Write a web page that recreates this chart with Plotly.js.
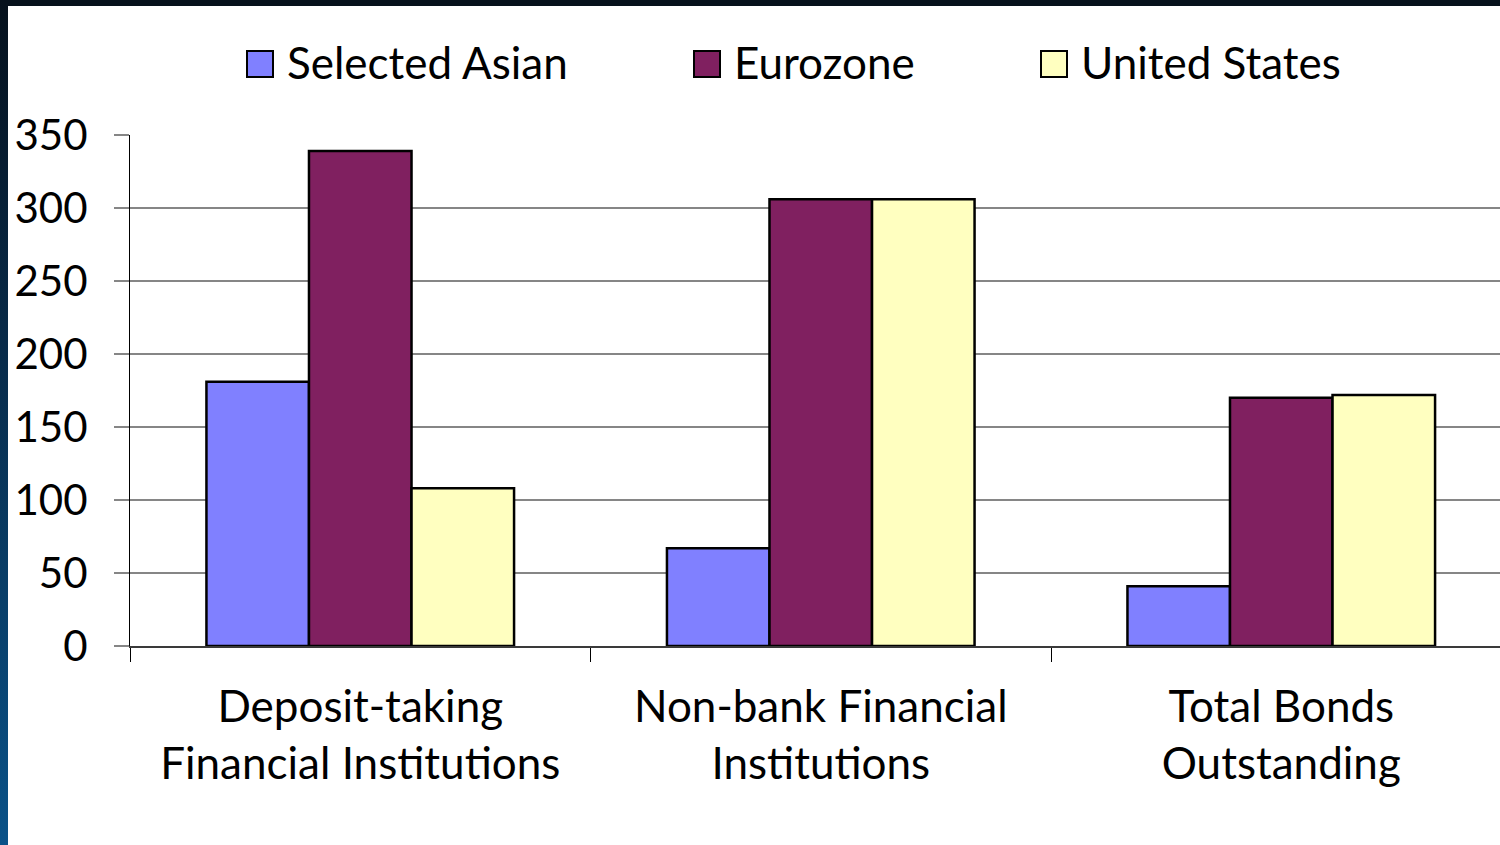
<!DOCTYPE html>
<html>
<head>
<meta charset="utf-8">
<script src="https://cdn.plot.ly/plotly-3.0.1.min.js"></script>
<style>
  html, body { margin: 0; padding: 0; width: 1500px; height: 845px; overflow: hidden; background: #ffffff; }
  #topband { position: absolute; left: 0; top: 0; width: 1500px; height: 6px; background: #06111c; }
  #leftband { position: absolute; left: 0; top: 0; width: 8px; height: 845px;
              background: linear-gradient(to bottom, #06111c 0%, #082a48 40%, #0a5288 100%); }
  #chart { position: absolute; left: 8px; top: 6px; width: 1492px; height: 839px; }
</style>
</head>
<body>
<div id="topband"></div>
<div id="leftband"></div>
<div id="chart"></div>
<script>
// ---- data ----
const categories = ["Deposit-taking<br>Financial Institutions", "Non-bank Financial<br>Institutions", "Total Bonds<br>Outstanding"];
const seriesNames = ["Selected Asian", "Eurozone", "United States"];
const selectedAsian = [181, 67, 41];
const eurozone = [339, 306, 170];
const unitedStates = [108, 306, 172];
const yTickVals = [0, 50, 100, 150, 200, 250, 300, 350];

// ---- styles ----
const colors = ["#8080FF", "#802060", "#FFFFC0"];
const FONT = "Lato, 'Noto Sans', sans-serif";
const W = 1492, H = 839;
const M = { l: 122, r: 0, t: 129, b: 199 };
const PW = W - M.l - M.r, PH = H - M.t - M.b;
const px = x => (x - M.l) / PW;
const py = y => 1 - (y - M.t) / PH;

const seriesValues = [selectedAsian, eurozone, unitedStates];
const traces = seriesNames.map((name, i) => ({
  type: "bar",
  name: name,
  x: categories,
  y: seriesValues[i],
  marker: { color: colors[i], line: { color: "#000000", width: 2.5 } },
  showlegend: false,
  hoverinfo: "x+y+name"
}));

// custom legend (large square swatches)
const legendBoxX = [239, 686, 1033];
const shapes = [];
const annotations = [];
seriesNames.forEach((name, i) => {
  const x0 = legendBoxX[i];
  shapes.push({
    type: "rect", xref: "paper", yref: "paper",
    x0: px(x0), x1: px(x0 + 26), y0: py(71), y1: py(45),
    fillcolor: colors[i], line: { color: "#000000", width: 2 }
  });
  annotations.push({
    xref: "paper", yref: "paper", x: px(x0 + 38), y: py(56),
    xanchor: "left", yanchor: "middle", showarrow: false,
    text: name, font: { family: FONT, size: 44, color: "#000000" }
  });
});

const layout = {
  width: W, height: H,
  margin: M,
  paper_bgcolor: "#ffffff",
  plot_bgcolor: "#ffffff",
  barmode: "group",
  bargap: 0.332,
  bargroupgap: 0,
  showlegend: false,
  font: { family: FONT, size: 44, color: "#000000" },
  xaxis: {
    type: "category",
    range: [-0.5, 2.475],
    tickson: "boundaries",
    ticks: "outside", ticklen: 14, tickwidth: 1, tickcolor: "#000000",
    showline: true, linecolor: "#3a3a3a", linewidth: 2,
    showgrid: false,
    ticklabelstandoff: 21,
    tickfont: { family: FONT, size: 44, color: "#000000" },
    fixedrange: true
  },
  yaxis: {
    range: [0, 350],
    tickvals: yTickVals,
    ticktext: yTickVals.map(String),
    ticks: "outside", ticklen: 15, tickwidth: 2, tickcolor: "#868686",
    showgrid: true, gridcolor: "#868686", gridwidth: 2,
    zeroline: false,
    showline: true, linecolor: "#000000", linewidth: 1,
    ticklabelstandoff: 18,
    tickfont: { family: FONT, size: 42, color: "#000000" },
    fixedrange: true
  },
  shapes: shapes,
  annotations: annotations
};

Plotly.newPlot("chart", traces, layout, { displayModeBar: false, staticPlot: true });
</script>
</body>
</html>
